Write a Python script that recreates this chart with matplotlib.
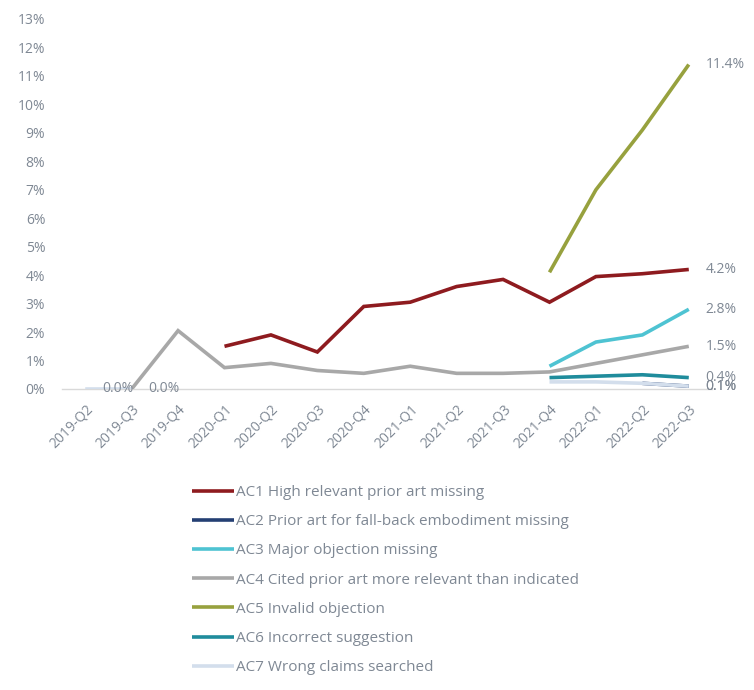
import numpy as np
import matplotlib
matplotlib.use("Agg")
import matplotlib.pyplot as plt

plt.rcParams['font.family'] = ['Open Sans', 'DejaVu Sans']

quarters = ["2019-Q2", "2019-Q3", "2019-Q4", "2020-Q1", "2020-Q2", "2020-Q3", "2020-Q4",
            "2021-Q1", "2021-Q2", "2021-Q3", "2021-Q4", "2022-Q1", "2022-Q2", "2022-Q3"]
nan = np.nan

ac1 = [nan, nan, nan, 1.5, 1.9, 1.3, 2.9, 3.05, 3.6, 3.85, 3.05, 3.95, 4.05, 4.2]
ac2 = [nan, nan, nan, nan, nan, nan, nan, nan, nan, nan, nan, nan, 0.2, 0.1]
ac3 = [nan, nan, nan, nan, nan, nan, nan, nan, nan, nan, 0.8, 1.65, 1.9, 2.8]
ac4 = [nan, 0.0, 2.05, 0.75, 0.9, 0.65, 0.55, 0.8, 0.55, 0.55, 0.6, 0.9, 1.2, 1.5]
ac5 = [nan, nan, nan, nan, nan, nan, nan, nan, nan, nan, 4.1, 7.0, 9.1, 11.4]
ac6 = [nan, nan, nan, nan, nan, nan, nan, nan, nan, nan, 0.4, 0.45, 0.5, 0.4]
ac7 = [0.0, 0.0, nan, nan, nan, nan, nan, nan, nan, nan, 0.25, 0.25, 0.2, 0.1]

series_names = [
    "AC1 High relevant prior art missing",
    "AC2 Prior art for fall-back embodiment missing",
    "AC3 Major objection missing",
    "AC4 Cited prior art more relevant than indicated",
    "AC5 Invalid objection",
    "AC6 Incorrect suggestion",
    "AC7 Wrong claims searched",
]
series_values = [ac1, ac2, ac3, ac4, ac5, ac6, ac7]
series_colors = ["#8E1B1F", "#243F73", "#4EC3D2", "#A8A8A8", "#97A13E", "#1F8C9C", "#D3DEEC"]

# data labels: (series index, point index)
label_points = [(6, 0), (6, 1), (4, 13), (0, 13), (2, 13), (3, 13), (5, 13), (1, 13), (6, 13)]

fig = plt.figure(figsize=(7.54, 6.90), dpi=100)
ax = fig.add_axes([62 / 754, 1 - 389 / 690, 650 / 754, 370 / 690])

x = np.arange(len(quarters))
# draw lighter series first so the strong lines sit on top
order = [6, 3, 2, 5, 1, 4, 0]
handles = {}
for i in order:
    (ln,) = ax.plot(x, series_values[i], color=series_colors[i], lw=2.6,
                    solid_capstyle="butt", solid_joinstyle="miter", zorder=3 + i * 0.1)
    handles[i] = ln

text_color = "#7F8894"
for si, pi in label_points:
    v = series_values[si][pi]
    ax.annotate(f"{v:.1f}%", xy=(x[pi], v), xytext=(12, 0), textcoords="offset points",
                ha="left", va="center", fontsize=10, color=text_color, zorder=6)

ax.set_xlim(-0.5, len(quarters) - 0.5)
ax.set_ylim(0, 13)
ax.set_yticks(np.arange(0, 14))
ax.set_yticklabels([f"{v}%" for v in range(0, 14)])
ax.set_xticks(x)
ax.set_xticklabels(quarters, rotation=45, ha="right", rotation_mode="anchor")

for s in ["top", "right", "left"]:
    ax.spines[s].set_visible(False)
ax.spines["bottom"].set_color("#D9D9D9")
ax.spines["bottom"].set_linewidth(1.0)
ax.tick_params(axis="both", length=0, colors=text_color, labelsize=10)
ax.tick_params(axis="x", pad=9)
ax.tick_params(axis="y", pad=12)

fig.legend([handles[i] for i in range(7)], series_names,
           loc="upper left", bbox_to_anchor=(192 / 754, 1 - 485 / 690),
           frameon=False, fontsize=11, handlelength=2.75, handletextpad=0.12,
           labelspacing=0.93, borderpad=0, borderaxespad=0, labelcolor=text_color)

fig.savefig("out.png", dpi=100, facecolor="white")
